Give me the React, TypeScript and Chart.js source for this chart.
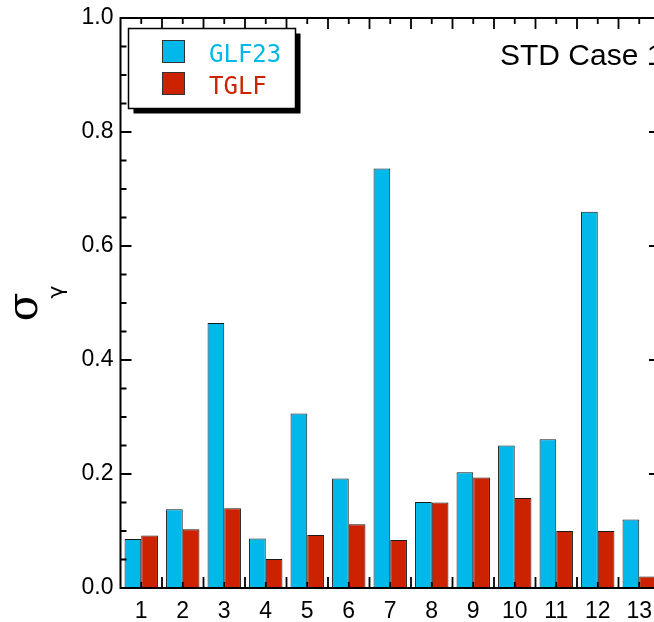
import React, { useEffect, useRef } from "react";
import { Chart, registerables } from "chart.js";

Chart.register(...registerables);

const categories = ["1", "2", "3", "4", "5", "6", "7", "8", "9", "10", "11", "12", "13"];
const glf23 = [0.086, 0.138, 0.465, 0.087, 0.306, 0.192, 0.736, 0.151, 0.203, 0.25, 0.261, 0.66, 0.12];
const tglf = [0.092, 0.103, 0.14, 0.051, 0.093, 0.112, 0.084, 0.15, 0.194, 0.158, 0.1, 0.1, 0.02];
const seriesNames = ["GLF23", "TGLF"];
const seriesColors = ["#00b8ea", "#cc2200"];
const yMin = 0;
const yMax = 1.0;
const yMajorStep = 0.2;
const yMinorStep = 0.05;
const caseLabel = "STD Case 1";

const framePlugin = {
  id: "frameTicks",
  afterDatasetsDraw(chart: any) {
    const ctx = chart.ctx;
    const { left, right, top, bottom } = chart.chartArea;
    const ys = chart.scales.y;
    const xs = chart.scales.x;
    ctx.save();
    ctx.strokeStyle = "#000";
    ctx.lineWidth = 1.8;
    ctx.beginPath();
    const nMinor = Math.round((yMax - yMin) / yMinorStep);
    const perMajor = Math.round(yMajorStep / yMinorStep);
    for (let i = 0; i <= nMinor; i++) {
      const py = ys.getPixelForValue(yMin + i * yMinorStep);
      const len = i % perMajor === 0 ? 11 : 6;
      ctx.moveTo(left, py);
      ctx.lineTo(left + len, py);
      ctx.moveTo(right, py);
      ctx.lineTo(right - len, py);
    }
    const n = categories.length;
    for (let i = 0; i < n; i++) {
      const cx = xs.getPixelForValue(i);
      ctx.moveTo(cx, bottom);
      ctx.lineTo(cx, bottom - 6);
      ctx.moveTo(cx, top);
      ctx.lineTo(cx, top + 6);
    }
    for (let i = 1; i < n; i++) {
      const bx = (xs.getPixelForValue(i - 1) + xs.getPixelForValue(i)) / 2;
      ctx.moveTo(bx, bottom);
      ctx.lineTo(bx, bottom - 11);
      ctx.moveTo(bx, top);
      ctx.lineTo(bx, top + 11);
    }
    ctx.stroke();
    ctx.lineWidth = 2;
    ctx.strokeRect(left, top, right - left, bottom - top);
    ctx.restore();
  },
  afterDraw(chart: any) {
    const ctx = chart.ctx;
    ctx.save();
    // legend box with shadow
    const bx = 128.5, by = 28.5, bw = 167, bh = 80;
    ctx.fillStyle = "#000";
    ctx.fillRect(bx + 5, by + 5, bw, bh);
    ctx.fillStyle = "#fff";
    ctx.fillRect(bx, by, bw, bh);
    ctx.strokeStyle = "#000";
    ctx.lineWidth = 1.5;
    ctx.strokeRect(bx, by, bw, bh);
    const rows = [40.5, 72.5];
    seriesNames.forEach((name, i) => {
      ctx.fillStyle = seriesColors[i];
      ctx.fillRect(162.5, rows[i], 22, 22);
      ctx.strokeStyle = "#333";
      ctx.lineWidth = 1;
      ctx.strokeRect(162.5, rows[i], 22, 22);
      ctx.font = '24px "DejaVu Sans Mono"';
      ctx.textBaseline = "alphabetic";
      ctx.textAlign = "left";
      ctx.fillText(name, 209, rows[i] + 21.5);
    });
    // case label
    ctx.fillStyle = "#000";
    ctx.font = '30px "Liberation Sans"';
    ctx.textAlign = "left";
    ctx.textBaseline = "alphabetic";
    ctx.fillText(caseLabel, 500, 65);
    // y title sigma_gamma
    ctx.translate(26, 307);
    ctx.rotate(-Math.PI / 2);
    ctx.textAlign = "center";
    ctx.textBaseline = "middle";
    ctx.font = '42px "DejaVu Serif"';
    ctx.fillText("σ", 0, 0);
    ctx.font = '22px "DejaVu Sans"';
    ctx.fillText("γ", 15, 31);
    ctx.restore();
  },
};

export default function App() {
  const ref = useRef<HTMLCanvasElement | null>(null);
  useEffect(() => {
    if (!ref.current) return;
    const chart = new Chart(ref.current, {
      type: "bar",
      data: {
        labels: categories,
        datasets: [
          {
            label: seriesNames[0],
            data: glf23,
            backgroundColor: seriesColors[0],
            borderColor: "#1a1a1a",
            borderWidth: 1,
            barPercentage: 1,
            categoryPercentage: 0.805,
          },
          {
            label: seriesNames[1],
            data: tglf,
            backgroundColor: seriesColors[1],
            borderColor: "#1a1a1a",
            borderWidth: 1,
            barPercentage: 1,
            categoryPercentage: 0.805,
          },
        ],
      },
      options: {
        responsive: false,
        animation: false,
        devicePixelRatio: 1,
        layout: { padding: { top: 18, right: 20, left: 0, bottom: 0 } },
        plugins: { legend: { display: false }, tooltip: { enabled: false } },
        scales: {
          x: {
            grid: { display: false, drawTicks: false },
            border: { display: false },
            ticks: {
              color: "#000",
              font: { family: "Liberation Sans", size: 23, lineHeight: 0.9 },
              padding: 13,
              maxRotation: 0,
              autoSkip: false,
            },
            afterFit: (s: any) => {
              s.height = 34;
            },
          },
          y: {
            min: yMin,
            max: yMax,
            grid: { display: false, drawTicks: false },
            border: { display: false },
            ticks: {
              stepSize: yMajorStep,
              color: "#000",
              font: { family: "Liberation Sans", size: 23, lineHeight: 0.9 },
              padding: 7,
              callback: (v: any) => Number(v).toFixed(1),
            },
            afterFit: (s: any) => {
              s.width = 120.5;
            },
          },
        },
      },
      plugins: [framePlugin],
    });
    return () => chart.destroy();
  }, []);
  return (
    <div
      style={{
        position: "fixed",
        left: 0,
        top: 0,
        width: 654,
        height: 622,
        overflow: "hidden",
        background: "#fff",
      }}
    >
      <canvas ref={ref} width={680} height={622} style={{ display: "block", width: 680, height: 622 }} />
    </div>
  );
}
